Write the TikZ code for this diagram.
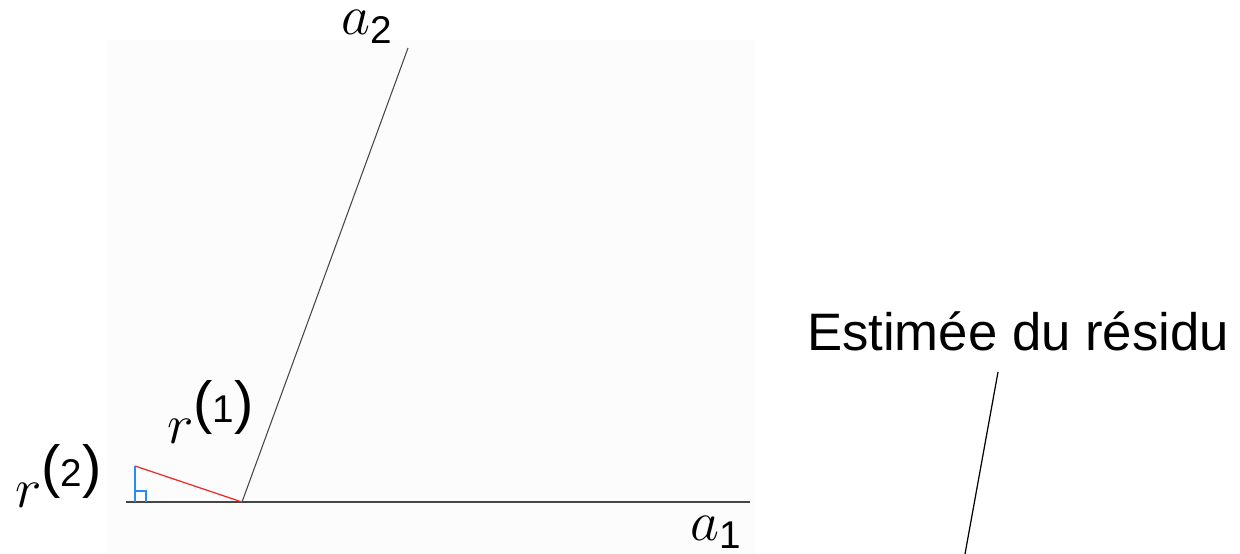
\documentclass[tikz,border=0pt]{standalone}
\usepackage{fix-cm}
\usepackage{amsmath}
\usepackage{fontspec}
\setsansfont{Liberation Sans}
\definecolor{axisgray}{RGB}{70,70,70}
\definecolor{resred}{RGB}{240,40,40}
\definecolor{projblue}{RGB}{40,140,240}
\definecolor{panelbg}{RGB}{252,252,252}
\usetikzlibrary{positioning}
% sans digits in sub- and superscripts
\newcommand{\subsf}[1]{\mbox{\sffamily\fontsize{22}{25}\selectfont #1}}
\newcommand{\supsf}[1]{\mbox{\sffamily\fontsize{33}{36}\selectfont
  (\fontsize{22}{25}\selectfont #1\fontsize{33}{36}\selectfont)}}

\begin{document}
\begin{tikzpicture}[x=0.02cm, y=-0.02cm,
  lbl/.style={inner sep=0pt, anchor=base west, font=\fontsize{32}{36}\selectfont}]

  \useasboundingbox (0,0) rectangle (1240,554);
  \fill[panelbg] (106,40) rectangle (755,554);

  % Points
  \coordinate (o) at (242,502);
  \coordinate (a1s) at (126,502);
  \coordinate (a1e) at (750,502);
  \coordinate (a2e) at (408,48);
  \coordinate (p) at (135,466);
  \coordinate (f) at (135,502);

  % Axes
  \draw[axisgray, line width=1.1pt] (a1s) -- (a1e);
  \draw[axisgray, line width=0.6pt] (o) -- (a2e);

  % Residuals
  \draw[resred, line width=0.7pt] (o) -- (p);
  \draw[projblue, line width=0.8pt] (p) -- (f);
  \draw[projblue, line width=0.6pt] (135,491) -- (146,491) -- (146,502);

  % Labels
  \node[lbl] (la2) at (341,35) {$a_{\subsf{2}}$};
  \node[lbl] (la1) at (690,540) {$a_{\subsf{1}}$};
  \node[lbl] (lr1) at (167,443) {$r^{\supsf{1}}$};
  \node[lbl] (lr2) at (15,507) {$r^{\supsf{2}}$};

  \node[inner sep=0pt, anchor=base, font=\sffamily\fontsize{30}{34}\selectfont]
    (est) at (1018,350) {Estimée du résidu};
  \coordinate (tip) at (965,554);
  \draw[line width=0.7pt] ([xshift=-0.4cm, yshift=-0.44cm]est.base) -- (tip);

\end{tikzpicture}
\end{document}
